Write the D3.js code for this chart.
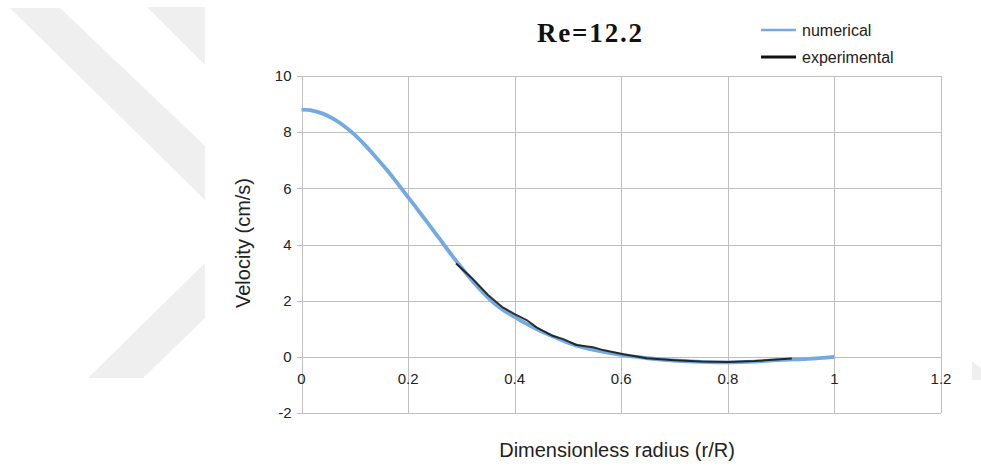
<!DOCTYPE html>
<html>
<head>
<meta charset="utf-8">
<script src="https://cdn.jsdelivr.net/npm/d3@7"></script>
<style>
  html, body { margin: 0; padding: 0; background: #fff; }
  svg { display: block; }
</style>
</head>
<body>
<svg id="chart" width="981" height="466"></svg>
<script>
// Velocity profile across the pipe radius, Re = 12.2
const numericalR = [0, 0.02, 0.04, 0.06, 0.08, 0.10, 0.12, 0.14, 0.16, 0.18, 0.20, 0.22, 0.24, 0.26, 0.28, 0.30, 0.32, 0.34, 0.36, 0.38, 0.40, 0.42, 0.44, 0.46, 0.48, 0.50, 0.52, 0.54, 0.56, 0.58, 0.60, 0.62, 0.65, 0.70, 0.75, 0.80, 0.85, 0.90, 0.95, 1.00];
const numericalV = [8.80, 8.77, 8.66, 8.47, 8.22, 7.90, 7.52, 7.10, 6.66, 6.18, 5.69, 5.19, 4.69, 4.18, 3.67, 3.18, 2.72, 2.30, 1.93, 1.64, 1.42, 1.20, 1.00, 0.82, 0.66, 0.50, 0.38, 0.28, 0.20, 0.13, 0.07, 0.02, -0.05, -0.13, -0.18, -0.20, -0.17, -0.11, -0.07, 0.00];

const experimentalR = [0.29, 0.32, 0.35, 0.376, 0.40, 0.4225, 0.441, 0.472, 0.491, 0.516, 0.547, 0.566, 0.604, 0.648, 0.70, 0.75, 0.80, 0.85, 0.92];
const experimentalV = [3.32, 2.80, 2.20, 1.78, 1.52, 1.31, 1.05, 0.74, 0.63, 0.42, 0.34, 0.24, 0.09, -0.05, -0.12, -0.17, -0.18, -0.15, -0.06];

const xTicks = [0, 0.2, 0.4, 0.6, 0.8, 1, 1.2];
const yTicks = [-2, 0, 2, 4, 6, 8, 10];

const titleText = "Re=12.2";
const xTitle = "Dimensionless radius (r/R)";
const yTitle = "Velocity (cm/s)";
const seriesNames = ["numerical", "experimental"];
const seriesColors = ["#74a9e1", "#111111"];

const svg = d3.select("#chart");
const textColor = "#222";
const gridColor = "#bfbfbf";

// faint background emblem
const emblem = svg.append("g").attr("fill", "#efefef");
[
  [[10, 8], [60, 8], [205, 146], [205, 200]],
  [[147, 7], [205, 7], [205, 65]],
  [[88, 378], [143, 378], [205, 318], [205, 263]],
  [[972, 361], [981, 368], [981, 380], [972, 380]]
].forEach(p => emblem.append("polygon").attr("points", p.map(d => d.join(",")).join(" ")));

const x = d3.scaleLinear().domain([0, 1.2]).range([301.5, 941]);
const y = d3.scaleLinear().domain([-2, 10]).range([413, 76]);

// grid
const grid = svg.append("g").attr("stroke", gridColor).attr("stroke-width", 1).attr("shape-rendering", "crispEdges");
grid.selectAll("line.h").data(yTicks).join("line")
  .attr("x1", x(0) - 5).attr("x2", x(1.2))
  .attr("y1", d => Math.round(y(d)) + 0.5).attr("y2", d => Math.round(y(d)) + 0.5);
grid.selectAll("line.v").data(xTicks).join("line")
  .attr("x1", d => Math.round(x(d)) + 0.5).attr("x2", d => Math.round(x(d)) + 0.5)
  .attr("y1", y(10)).attr("y2", y(-2));

// y tick labels
svg.append("g").selectAll("text").data(yTicks).join("text")
  .attr("x", x(0) - 10).attr("y", d => y(d))
  .attr("dy", "0.35em")
  .attr("text-anchor", "end")
  .attr("font-family", "'Liberation Sans', Arial, sans-serif")
  .attr("font-size", 15).attr("fill", textColor)
  .text(d => d);

// x tick labels sit just below the zero line
svg.append("g").selectAll("text").data(xTicks).join("text")
  .attr("x", d => x(d)).attr("y", y(0) + 27)
  .attr("text-anchor", "middle")
  .attr("font-family", "'Liberation Sans', Arial, sans-serif")
  .attr("font-size", 15).attr("fill", textColor)
  .text(d => d);

// series
const numerical = numericalR.map((r, i) => [r, numericalV[i]]);
const experimental = experimentalR.map((r, i) => [r, experimentalV[i]]);

const line = d3.line().x(d => x(d[0])).y(d => y(d[1]));

svg.append("path").datum(numerical)
  .attr("fill", "none").attr("stroke", seriesColors[0]).attr("stroke-width", 3.8)
  .attr("stroke-linejoin", "round")
  .attr("d", line.curve(d3.curveCatmullRom)(numerical));

svg.append("path").datum(experimental)
  .attr("fill", "none").attr("stroke", seriesColors[1]).attr("stroke-width", 2)
  .attr("stroke-opacity", 0.85)
  .attr("stroke-linejoin", "round")
  .attr("d", line.curve(d3.curveLinear)(experimental));

// title
svg.append("text")
  .attr("x", 537).attr("y", 42)
  .attr("font-family", "'Liberation Serif', 'DejaVu Serif', serif")
  .attr("font-weight", "bold").attr("font-size", 27)
  .attr("textLength", 105).attr("lengthAdjust", "spacing")
  .attr("fill", "#111")
  .text(titleText);

// legend
const legend = svg.append("g");
seriesNames.forEach((name, i) => {
  const ly = 30 + i * 27;
  legend.append("line")
    .attr("x1", 761).attr("x2", 796).attr("y1", ly).attr("y2", ly)
    .attr("stroke", seriesColors[i]).attr("stroke-width", i === 0 ? 2.5 : 3);
  legend.append("text")
    .attr("x", 802).attr("y", ly).attr("dy", "0.35em")
    .attr("font-family", "'Liberation Sans', Arial, sans-serif")
    .attr("font-size", 16).attr("fill", textColor)
    .text(name);
});

// axis titles
svg.append("text")
  .attr("x", 617).attr("y", 457)
  .attr("text-anchor", "middle")
  .attr("font-family", "'Liberation Sans', Arial, sans-serif")
  .attr("font-size", 20).attr("fill", textColor)
  .text(xTitle);

svg.append("text")
  .attr("transform", "translate(250,243) rotate(-90)")
  .attr("text-anchor", "middle")
  .attr("font-family", "'Liberation Sans', Arial, sans-serif")
  .attr("font-size", 20).attr("fill", textColor)
  .text(yTitle);
</script>
</body>
</html>
